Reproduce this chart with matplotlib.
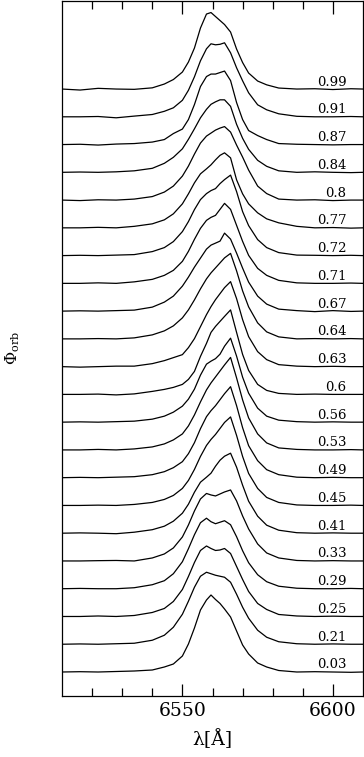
import matplotlib
matplotlib.use("Agg")
import matplotlib.pyplot as plt
import numpy as np

plt.rcParams['font.family'] = ['DejaVu Serif']
plt.rcParams['mathtext.fontset'] = 'dejavuserif'

# wavelength grid (Angstrom)
wavelength = [6510, 6516, 6522, 6528, 6534, 6540, 6544, 6547, 6550, 6552, 6554, 6556,
              6558, 6559.5, 6561, 6562.5, 6564, 6566, 6568, 6570, 6572, 6575, 6578,
              6582, 6588, 6594, 6600, 6606, 6610]

# orbital phases, bottom to top
phases = ['0.03', '0.21', '0.25', '0.29', '0.33', '0.41', '0.45', '0.49', '0.53', '0.56',
          '0.6', '0.63', '0.64', '0.67', '0.71', '0.72', '0.77', '0.8', '0.84', '0.87',
          '0.91', '0.99']

# line flux above continuum (arbitrary units)
flux_003 = [0, 0.3, 0, 0.5, 1, 2, 5, 8, 16, 28, 44, 62, 72, 77, 72.5, 68.5, 63, 55, 41, 27, 18, 9, 5, 1.5, 0, 0.3, 0, -0.3, 0]
flux_021 = [0, 0.3, 0, 0.5, 1, 4, 9, 17, 30, 43, 57, 68, 72, 70.5, 69, 68, 67, 62, 50, 37, 26, 14, 7, 2.5, 0.5, 0, 0.3, 0, 0]
flux_025 = [0, 0, 0.5, 0, 1, 4, 8, 15, 27, 40, 54, 66, 70.5, 68, 66, 66.5, 68, 63, 50, 37, 25, 13, 7, 2, 0.5, 0, 0.3, 0, 0]
flux_029 = [0, 0.3, 0, 0, 1, 4, 8, 15, 27, 40, 54, 66, 70.5, 67, 65, 66.5, 68, 64, 52, 38, 26, 14, 7, 2.5, 0.5, 0, 0, 0.3, 0]
flux_033 = [0, 0, 0.3, 0.5, 0, 3, 7, 13, 24, 36, 50, 62, 67.5, 66, 65, 67, 69, 71, 60, 45, 32, 17, 8, 3, 0.5, 0, 0.3, 0, 0]
flux_041 = [0, 0.3, 0, -0.5, 1, 3.5, 7, 12, 20, 29, 41, 51, 56, 60, 67, 73, 77, 80, 66, 48, 32, 17, 8, 3, 0.5, 0, 0.3, 0, 0]
flux_045 = [0, 0, 0.3, 0, 1, 3, 6, 10, 17, 25, 36, 49, 60, 66, 71, 77, 83, 88.5, 70, 49, 32, 17, 8, 3, 0.5, 0, 0, 0.3, 0]
flux_049 = [0, 0.3, 0, 0.5, 1, 3, 6, 10, 16, 24, 35, 49, 61, 67, 72, 78, 84, 91, 72, 50, 32, 17, 8, 3, 0.5, 0, 0.3, 0, 0]
flux_053 = [0, 0, 0.5, 0, 1, 3, 6, 10, 16, 24, 35, 48, 60, 67, 73, 79, 85, 92.5, 72, 50, 32, 16, 7, 2, 0.5, 0, 0, 0.3, 0]
flux_056 = [0, 0.3, 0, 0.5, 1, 3, 6, 10, 16, 23, 33, 47, 58, 61, 63.5, 68, 76, 84, 66, 45, 29, 14, 6, 2, 0.5, 0, 0.3, 0, 0]
flux_060 = [0, 0, 0.3, -0.5, 0.5, 3, 5, 7, 10, 15, 23, 38, 51, 62, 68, 73, 78, 84.5, 62, 40, 24, 10, 4, 1, 0, 0.3, 0, 0, 0]
flux_063 = [0, -0.5, 0, 0.5, 0.5, 3, 6, 9, 12, 19, 28, 40, 52, 60, 67, 73, 79, 85, 68, 47, 30, 15, 7, 2, 0.5, 0, 0.3, 0, 0]
flux_064 = [0, 0, 0.3, 0, 1, 4, 8, 13, 21, 29, 39, 50, 60, 66, 71, 76, 81, 85.5, 68, 48, 32, 16, 7, 2, 0, 0.3, 0, 0.3, 0]
flux_067 = [0, 0.3, 0, 0.5, 1, 4, 9, 15, 25, 34, 44, 53, 62, 66, 68, 70, 78, 72, 58, 43, 29, 15, 7, 2, 0.5, -0.5, 0.5, -0.3, 0]
flux_071 = [0, 0, 0.5, 0, 1.5, 4, 8, 13, 22, 32, 44, 55, 63, 66, 68, 74, 80, 74, 58, 42, 28, 15, 8, 3, 0.5, 0, 0, 0.3, 0]
flux_072 = [0, 0.3, 0, 0.5, 1, 4, 8, 14, 24, 34, 46, 56, 62, 65, 67, 72, 76, 80.5, 64, 44, 30, 16, 8, 3, 0.5, 0.3, 0, 0.3, 0]
flux_077 = [0, 0, 0.5, 0, 1.5, 4, 8, 14, 24, 34, 45, 54, 59, 63, 68, 72.5, 75, 70, 48, 34, 24, 15, 9, 5, 1.5, 0, 0.3, -0.3, 0]
flux_080 = [0, -0.5, 0.3, 0, 1, 3.5, 8, 14, 24, 34, 46, 57, 64, 67, 70, 72, 73.5, 68, 55, 43, 30, 14, 6.5, 1, 0, 0.3, -0.5, 0, 0]
flux_084 = [0, 0.3, 0, 0.5, 1.5, 4, 9, 15, 23.5, 33, 43.5, 54.5, 63, 68, 70.5, 72.5, 72.5, 66, 48, 34, 23, 12, 6, 1.5, 0, 0.5, 0, -0.3, 0]
flux_087 = [0, 0.3, -0.5, 0.5, 1, 2.5, 5, 11, 15.5, 25, 40, 58, 68, 70.5, 70.5, 72, 73.5, 64, 42, 25, 14, 9, 5, 1, 0.3, 0, -0.3, 0, 0]
flux_091 = [0, 0, 0.3, -1, 0.7, 2.3, 5.5, 9, 16.5, 26.5, 40, 56, 68, 73, 72, 72.5, 74, 64, 49, 36, 24, 12, 7, 3, 0.5, 0, 0, 0.3, 0]
flux_099 = [0, -1, 0.7, 0, -0.3, 1.2, 5, 9.5, 17, 27, 41, 61, 75, 76.5, 72.5, 68.5, 64.5, 57, 40, 26.5, 16, 8, 4.2, 1, 0, 0.3, -0.5, 0.3, 0]

profiles = [flux_003, flux_021, flux_025, flux_029, flux_033, flux_041, flux_045,
            flux_049, flux_053, flux_056, flux_060, flux_063, flux_064, flux_067,
            flux_071, flux_072, flux_077, flux_080, flux_084, flux_087, flux_091, flux_099]

step = 27.76  # vertical offset between spectra

fig = plt.figure(figsize=(3.64, 7.57), dpi=100)
ax = fig.add_axes([62 / 364, 61 / 757, 301 / 364, 695 / 757])

for i, (ph, f) in enumerate(zip(phases, profiles)):
    off = i * step
    ax.plot(wavelength, np.array(f) + off, color='black', lw=0.9)
    ax.text(6604.5, off + 3.5, ph, ha='right', va='baseline', fontsize=9.5)

ax.set_xlim(6510, 6610)
ax.set_ylim(-24, 671)
ax.set_xticks([6550, 6600])
ax.set_xticks(np.arange(6520, 6610, 10), minor=True)
ax.tick_params(axis='x', which='both', direction='in', top=True, bottom=True,
               labelsize=13.5, pad=4)
ax.tick_params(axis='x', which='major', length=9, width=0.9)
ax.tick_params(axis='x', which='minor', length=5.5, width=0.9)
ax.set_yticks([])
for s in ax.spines.values():
    s.set_linewidth(0.9)

ax.set_xlabel('λ[Å]', fontsize=13.5, labelpad=7)
ax.set_ylabel(r'$\Phi_{\rm orb}$', fontsize=11.5, labelpad=29)

fig.savefig('out.png', dpi=100)
